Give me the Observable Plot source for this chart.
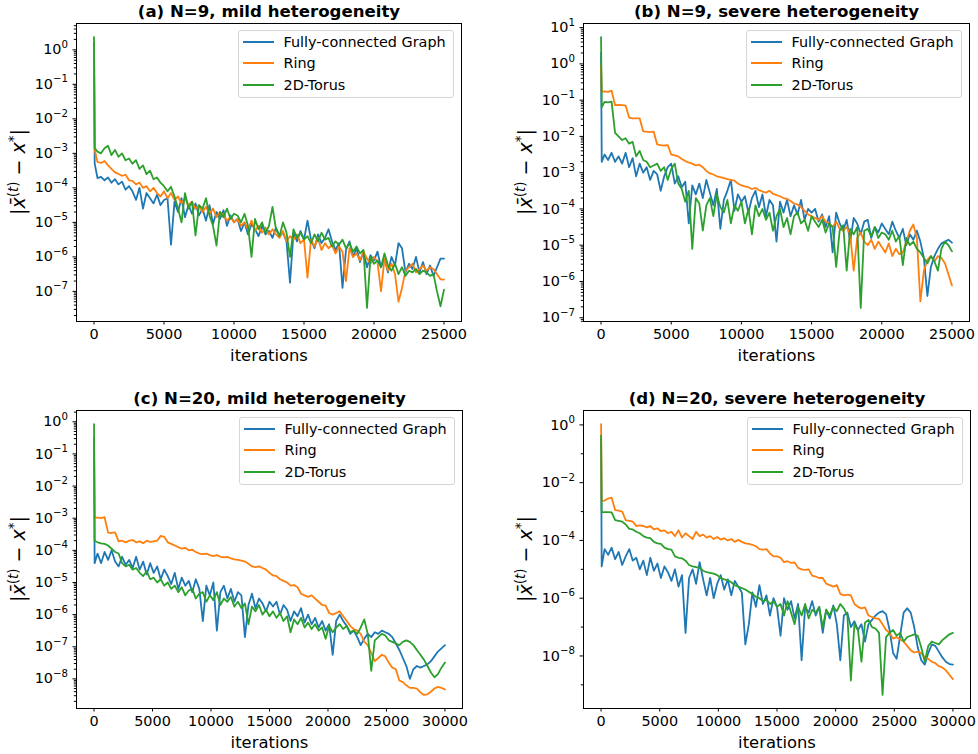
<!DOCTYPE html>
<html>
<head>
<meta charset="utf-8">
<script src="https://cdn.jsdelivr.net/npm/d3@7"></script>
<script src="https://cdn.jsdelivr.net/npm/@observablehq/plot@0.6"></script>
<style>
  html, body { margin: 0; padding: 0; background: #ffffff; }
  #root { position: relative; width: 978px; height: 754px; background: #ffffff; font-family: "DejaVu Sans", sans-serif; }
  .panel { position: absolute; width: 489px; height: 377px; }
  .legend { position: absolute; box-sizing: border-box; width: 216px; height: 68px; border: 1px solid #d6d6d6; border-radius: 3px; background: rgba(255,255,255,0.8); font-family: "DejaVu Sans", sans-serif; font-size: 14.4px; color: #000; }
  .legend .row { position: absolute; left: 0; height: 20px; display: flex; align-items: center; white-space: nowrap; }
  .legend .swatch { display: inline-block; width: 31px; height: 2px; margin-left: 4px; }
  .legend .lab { margin-left: 10px; }
</style>
</head>
<body>
<div id="root"></div>
<script>
// ---------- categories / labels ----------
const seriesNames = ["Fully-connected Graph", "Ring", "2D-Torus"];
const seriesColors = ["#1f77b4", "#ff7f0e", "#2ca02c"];
const panelTitles = ["(a) N=9, mild heterogeneity", "(b) N=9, severe heterogeneity", "(c) N=20, mild heterogeneity", "(d) N=20, severe heterogeneity"];
const xLabel = "iterations";

// ---------- tick values ----------
const xTicksN9 = [0, 5000, 10000, 15000, 20000, 25000];
const xTicksN20 = [0, 5000, 10000, 15000, 20000, 25000, 30000];
const yTickExpA = [0, -1, -2, -3, -4, -5, -6, -7];
const yTickExpB = [1, 0, -1, -2, -3, -4, -5, -6, -7];
const yTickExpC = [0, -1, -2, -3, -4, -5, -6, -7, -8];
const yTickExpD = [0, -2, -4, -6, -8];

// ---------- logged iterations (sampling grid) ----------
const itersN9 = [0, 50, ...d3.range(250, 25001, 250)];
const itersN20 = [0, 50, ...d3.range(300, 30001, 300)];

// ---------- series values, as log10 |x̄(t) - x*| ----------
// (a) N=9, mild
const fullA = [0.2, -3.3,
 -3.72,-3.68,-3.78,-3.7,-3.85,-3.75,-3.9,-3.82,-4.05,-3.95,
 -4.1,-4.35,-4.0,-4.6,-4.15,-4.3,-4.45,-4.2,-4.5,-4.35,
 -4.3,-5.65,-4.4,-4.7,-4.3,-4.85,-4.5,-4.75,-4.45,-4.8,
 -4.6,-4.95,-4.5,-5.05,-4.7,-4.9,-4.65,-5.1,-4.8,-5.0,
 -4.9,-5.25,-5.0,-5.35,-5.05,-5.2,-5.4,-5.1,-5.35,-5.25,
 -5.45,-5.15,-5.4,-5.3,-5.55,-6.75,-5.3,-5.55,-5.25,-5.5,
 -4.95,-5.5,-5.75,-5.35,-5.6,-5.45,-5.2,-5.55,-5.8,-5.6,
 -6.9,-5.8,-5.55,-6.0,-5.75,-6.15,-5.85,-6.3,-5.95,-6.1,
 -5.85,-6.3,-6.05,-6.45,-6.0,-6.25,-5.6,-5.75,-6.45,-6.2,
 -6.35,-6.0,-6.45,-6.15,-6.5,-6.25,-6.55,-6.3,-6.05,-6.05];
const ringA = [0.1, -2.9,
 -3.25,-3.28,-3.22,-3.35,-3.45,-3.55,-3.6,-3.65,-3.62,-3.78,
 -3.8,-3.9,-3.85,-4.0,-3.95,-4.1,-4.0,-4.15,-4.25,-4.1,
 -4.3,-4.15,-4.35,-4.25,-4.45,-4.3,-4.5,-4.4,-4.6,-4.5,
 -4.7,-4.55,-4.75,-4.6,-4.85,-4.7,-4.8,-4.95,-4.85,-5.0,
 -4.9,-5.1,-5.0,-5.2,-4.95,-5.25,-5.1,-5.3,-5.15,-5.35,
 -5.2,-5.35,-5.45,-5.25,-5.55,-5.4,-5.5,-5.35,-5.6,-5.5,
 -6.6,-5.5,-5.7,-5.45,-5.8,-5.6,-5.75,-5.65,-5.9,-5.7,
 -5.85,-6.7,-5.75,-6.0,-5.9,-6.1,-5.85,-6.05,-6.2,-6.0,
 -6.15,-7.0,-6.05,-6.4,-6.2,-6.5,-7.3,-6.9,-6.4,-6.3,
 -6.2,-6.45,-6.35,-6.25,-6.4,-6.3,-6.35,-6.5,-6.65,-6.66];
const torusA = [0.37, -2.85,
 -2.95,-3.0,-2.85,-2.78,-3.05,-2.9,-3.1,-3.0,-3.2,-3.15,
 -3.3,-3.2,-3.45,-3.35,-3.6,-3.5,-3.75,-3.7,-3.85,-3.95,
 -4.1,-3.97,-4.25,-4.6,-5.0,-4.15,-4.6,-4.4,-5.38,-4.5,
 -4.6,-4.3,-4.8,-5.1,-5.67,-4.7,-4.85,-4.6,-4.9,-4.75,
 -4.8,-5.0,-4.75,-5.1,-6.0,-4.9,-5.2,-5.0,-5.3,-5.1,
 -4.55,-5.2,-5.4,-5.0,-5.3,-6.0,-5.2,-5.45,-5.3,-5.5,
 -5.4,-5.6,-5.35,-5.55,-5.3,-5.5,-5.45,-5.7,-5.55,-5.65,
 -5.5,-5.75,-5.6,-5.85,-5.7,-5.9,-5.8,-7.48,-6.0,-6.2,
 -6.1,-6.3,-5.9,-6.25,-6.4,-6.2,-6.5,-6.3,-6.55,-6.4,
 -6.45,-6.35,-6.5,-6.4,-6.45,-6.55,-6.5,-7.0,-7.43,-6.95];

// (b) N=9, severe
const fullB = [0.3, -2.7,
 -2.5,-2.65,-2.45,-2.7,-2.55,-2.75,-2.45,-2.85,-2.6,-3.1,
 -2.75,-3.0,-2.85,-3.2,-2.95,-3.05,-3.5,-3.1,-2.85,-2.75,
 -3.3,-3.1,-3.4,-3.25,-4.4,-3.35,-3.6,-3.3,-3.7,-3.2,
 -3.55,-3.9,-3.45,-4.55,-3.75,-3.5,-3.2,-4.05,-3.6,-3.8,
 -3.65,-4.1,-3.7,-3.5,-3.95,-3.6,-4.2,-3.75,-3.9,-4.9,
 -3.8,-4.1,-3.75,-4.2,-3.9,-4.15,-3.75,-4.3,-4.0,-4.1,
 -4.0,-4.35,-4.15,-4.5,-4.2,-5.2,-4.1,-4.4,-4.6,-4.3,
 -4.9,-4.25,-4.4,-4.7,-4.35,-4.3,-4.8,-4.5,-4.65,-4.4,
 -4.55,-4.7,-4.35,-4.6,-4.8,-4.55,-5.0,-4.7,-4.85,-4.6,
 -4.9,-5.35,-6.4,-5.6,-5.3,-5.1,-4.95,-4.9,-4.85,-4.93];
const ringB = [-0.05, -0.77,
 -0.76,-0.77,-0.74,-1.14,-1.13,-1.14,-1.15,-1.48,-1.5,-1.5,
 -1.5,-1.86,-1.87,-1.88,-1.87,-2.22,-2.24,-2.25,-2.24,-2.5,
 -2.52,-2.55,-2.62,-2.68,-2.72,-2.75,-2.8,-2.78,-2.85,-2.95,
 -3.02,-3.05,-3.1,-3.12,-3.15,-3.18,-3.2,-3.22,-3.3,-3.35,
 -3.38,-3.4,-3.45,-3.42,-3.48,-3.52,-3.55,-3.5,-3.58,-3.62,
 -3.65,-3.7,-3.72,-3.78,-3.85,-3.88,-3.95,-4.05,-4.15,-4.2,
 -4.25,-4.3,-4.2,-4.35,-4.4,-4.5,-4.35,-4.55,-4.6,-4.5,
 -4.7,-5.7,-4.8,-4.65,-4.9,-5.0,-4.85,-5.1,-4.9,-5.05,
 -5.2,-4.95,-5.3,-5.1,-5.25,-5.2,-4.9,-4.6,-4.43,-4.8,
 -6.55,-5.7,-5.4,-5.3,-5.45,-5.3,-5.35,-5.5,-5.8,-6.11];
const torusB = [0.74, -1.2,
 -1.05,-1.06,-1.04,-1.9,-2.0,-2.1,-2.05,-2.2,-2.15,-2.55,
 -2.4,-2.65,-2.7,-2.85,-2.8,-2.75,-2.95,-2.85,-3.2,-2.9,
 -2.75,-3.3,-3.45,-3.8,-3.5,-5.1,-3.7,-3.85,-4.6,-3.9,
 -3.7,-4.2,-3.6,-3.95,-4.1,-3.75,-4.4,-3.9,-4.05,-3.8,
 -4.4,-4.0,-4.7,-3.9,-4.2,-4.0,-4.3,-4.1,-4.6,-4.2,
 -4.0,-4.5,-4.25,-4.7,-4.2,-4.1,-4.4,-4.3,-4.6,-4.2,
 -4.35,-4.5,-4.3,-4.65,-4.4,-4.5,-5.6,-4.6,-4.45,-5.7,
 -4.55,-4.7,-4.5,-6.73,-4.6,-4.55,-4.75,-4.5,-4.8,-4.65,
 -4.7,-4.85,-4.6,-4.9,-4.75,-5.55,-4.8,-5.0,-4.9,-5.1,
 -5.2,-5.35,-5.5,-5.3,-5.45,-5.7,-5.1,-4.9,-5.0,-5.17];

// (c) N=20, mild
const fullC = [-0.5, -4.4,
 -4.1,-4.4,-4.05,-4.3,-4.0,-4.35,-4.5,-4.2,-4.45,-4.3,
 -4.55,-4.2,-4.6,-4.35,-4.75,-4.4,-4.7,-4.5,-4.9,-4.6,
 -4.8,-5.05,-4.7,-5.2,-4.85,-5.1,-4.95,-5.3,-4.9,-5.2,
 -6.2,-5.1,-5.4,-5.0,-6.5,-5.3,-5.1,-5.5,-5.2,-5.6,
 -5.3,-5.4,-6.7,-5.7,-5.35,-5.8,-5.5,-5.65,-5.9,-5.6,
 -5.75,-5.6,-6.0,-5.7,-5.85,-6.2,-5.9,-6.05,-5.8,-6.25,
 -6.0,-6.3,-6.1,-6.4,-6.2,-6.5,-6.3,-7.25,-6.2,-6.0,
 -6.2,-6.35,-6.6,-6.5,-6.7,-6.95,-6.75,-6.6,-6.7,-6.55,
 -6.6,-6.5,-6.55,-6.6,-6.7,-6.9,-7.1,-7.35,-7.6,-8.0,
 -7.7,-7.6,-7.65,-7.6,-7.55,-7.45,-7.3,-7.15,-7.05,-6.95];
const ringC = [-0.5, -2.98,
 -2.98,-3.0,-2.97,-3.45,-3.46,-3.44,-3.72,-3.7,-3.75,-3.7,
 -3.68,-3.75,-3.72,-3.78,-3.7,-3.74,-3.72,-3.7,-3.55,-3.58,
 -3.75,-3.8,-3.85,-3.9,-3.95,-3.92,-4.0,-3.98,-4.05,-4.1,
 -4.12,-4.1,-4.15,-4.18,-4.15,-4.2,-4.22,-4.2,-4.25,-4.28,
 -4.3,-4.32,-4.35,-4.42,-4.5,-4.52,-4.5,-4.55,-4.6,-4.7,
 -4.78,-4.8,-4.9,-4.95,-5.0,-5.1,-5.08,-5.15,-5.35,-5.4,
 -5.45,-5.4,-5.5,-5.6,-5.7,-5.72,-5.95,-6.0,-5.95,-5.9,
 -6.05,-6.2,-6.35,-6.45,-6.5,-6.6,-6.85,-6.95,-7.2,-7.45,
 -7.35,-7.25,-7.3,-7.5,-7.65,-7.7,-8.05,-8.1,-8.2,-8.28,
 -8.28,-8.3,-8.42,-8.5,-8.48,-8.4,-8.3,-8.25,-8.28,-8.33];
const torusC = [-0.07, -3.7,
 -3.75,-3.78,-3.8,-3.85,-3.95,-4.05,-4.1,-4.4,-4.5,-4.45,
 -4.6,-4.55,-4.7,-4.8,-4.65,-4.9,-4.85,-5.0,-4.9,-5.1,
 -5.0,-5.2,-5.1,-5.3,-5.15,-5.4,-5.25,-5.2,-5.5,-5.35,
 -5.3,-5.6,-5.4,-5.55,-5.3,-5.7,-5.5,-5.6,-5.45,-5.75,
 -5.6,-5.8,-5.65,-6.3,-5.75,-5.9,-5.7,-6.0,-5.85,-6.05,
 -5.9,-6.1,-5.95,-6.2,-6.05,-6.55,-6.15,-6.3,-6.1,-6.4,
 -6.25,-6.45,-6.3,-6.5,-6.4,-6.75,-6.35,-6.55,-6.4,-6.3,
 -6.45,-6.35,-6.55,-6.5,-6.6,-6.4,-6.15,-6.6,-7.75,-6.8,
 -6.7,-6.6,-6.65,-6.8,-6.85,-6.9,-6.95,-6.85,-6.8,-6.85,
 -6.95,-7.1,-7.25,-7.4,-7.6,-7.8,-7.95,-7.85,-7.65,-7.49];

// (d) N=20, severe
const fullD = [-0.5, -4.9,
 -4.3,-4.5,-4.25,-4.65,-4.4,-4.85,-4.55,-4.3,-4.7,-4.6,
 -5.0,-4.7,-5.2,-4.6,-5.05,-4.8,-5.3,-4.9,-5.1,-5.4,
 -5.0,-5.6,-5.2,-7.2,-5.3,-5.0,-5.5,-4.75,-5.35,-5.9,
 -5.3,-6.0,-5.5,-5.2,-5.7,-5.35,-5.9,-5.4,-5.6,-5.8,
 -7.6,-6.9,-5.8,-6.3,-5.55,-6.2,-5.9,-6.6,-6.0,-6.3,
 -7.3,-6.0,-6.4,-6.1,-6.7,-6.2,-8.15,-6.3,-6.5,-6.1,
 -6.6,-6.3,-7.2,-6.4,-6.7,-6.25,-6.9,-8.15,-6.6,-6.5,
 -7.0,-6.8,-7.1,-6.9,-7.5,-6.9,-6.75,-6.6,-6.5,-6.45,
 -6.55,-7.1,-7.9,-8.1,-7.3,-6.5,-6.35,-6.5,-7.0,-7.7,
 -8.15,-8.3,-7.9,-7.6,-7.65,-7.85,-8.05,-8.2,-8.28,-8.3];
const ringD = [0.03, -2.63,
 -2.62,-2.55,-2.52,-2.95,-2.97,-3.0,-3.3,-3.32,-3.35,-3.5,
 -3.48,-3.5,-3.55,-3.5,-3.62,-3.58,-3.68,-3.65,-3.75,-3.7,
 -3.85,-3.65,-3.9,-3.75,-3.85,-3.95,-3.7,-3.85,-3.8,-3.9,
 -3.85,-3.95,-3.88,-3.97,-3.92,-4.0,-3.95,-4.05,-3.98,-4.05,
 -4.1,-4.12,-4.15,-4.2,-4.3,-4.32,-4.3,-4.45,-4.55,-4.55,
 -4.6,-4.75,-4.72,-4.78,-4.76,-4.95,-5.0,-5.02,-5.0,-5.22,
 -5.25,-5.3,-5.3,-5.5,-5.55,-5.6,-5.55,-5.85,-5.9,-5.88,
 -5.9,-6.2,-6.3,-6.35,-6.32,-6.6,-6.65,-6.7,-6.72,-6.9,
 -7.1,-7.2,-7.4,-7.35,-7.42,-7.5,-7.65,-7.8,-7.88,-7.85,
 -7.9,-8.05,-8.1,-8.2,-8.25,-8.35,-8.4,-8.5,-8.65,-8.8];
const torusD = [-0.37, -3.03,
 -3.02,-3.02,-3.03,-3.3,-3.32,-3.35,-3.45,-3.6,-3.62,-3.7,
 -3.75,-3.85,-3.9,-3.92,-4.05,-4.1,-4.12,-4.25,-4.3,-4.32,
 -4.55,-4.6,-4.62,-4.7,-4.85,-4.9,-4.92,-4.95,-5.05,-5.1,
 -5.12,-5.15,-5.2,-5.3,-5.35,-5.38,-5.45,-5.55,-5.6,-5.65,
 -5.7,-5.78,-5.85,-5.95,-6.0,-6.1,-6.05,-6.2,-6.1,-6.3,
 -6.2,-6.6,-6.1,-6.5,-6.9,-6.3,-6.6,-6.2,-6.7,-6.4,
 -6.5,-6.3,-7.0,-6.4,-6.6,-6.3,-6.45,-6.2,-6.35,-6.6,
 -8.85,-6.9,-7.1,-8.2,-6.85,-6.75,-7.0,-7.05,-7.2,-9.35,
 -7.35,-7.2,-7.1,-7.3,-7.2,-7.5,-7.35,-7.3,-7.25,-7.3,
 -7.7,-8.2,-7.65,-7.5,-7.55,-7.6,-7.45,-7.35,-7.25,-7.2];

// ---------- layout ----------
const W = 489, H = 377;
const panels = [
  {title: panelTitles[0], iters: itersN9, series: [fullA, ringA, torusA], xTicks: xTicksN9, yExp: yTickExpA, minorAll: true,
   left: 0, top: 0, m: {top: 23, right: 28, bottom: 56, left: 76}},
  {title: panelTitles[1], iters: itersN9, series: [fullB, ringB, torusB], xTicks: xTicksN9, yExp: yTickExpB, minorAll: true,
   left: 489, top: 0, m: {top: 23, right: 9, bottom: 56, left: 94}},
  {title: panelTitles[2], iters: itersN20, series: [fullC, ringC, torusC], xTicks: xTicksN20, yExp: yTickExpC, minorAll: true,
   left: 0, top: 377, m: {top: 33, right: 27, bottom: 46, left: 76}},
  {title: panelTitles[3], iters: itersN20, series: [fullD, ringD, torusD], xTicks: xTicksN20, yExp: yTickExpD, minorAll: false,
   left: 489, top: 377, m: {top: 33, right: 8, bottom: 46, left: 94}}
];

const supMap = {"-": "\u207B", "0": "\u2070", "1": "\u00B9", "2": "\u00B2", "3": "\u00B3", "4": "\u2074", "5": "\u2075", "6": "\u2076", "7": "\u2077", "8": "\u2078", "9": "\u2079"};
const unSup = Object.fromEntries(Object.entries(supMap).map(([k, v]) => [v, k === "-" ? "\u2212" : k]));
const fmtPow = v => "10" + String(Math.round(Math.log10(v))).split("").map(c => supMap[c]).join("");

// turn "10⁻¹" tick texts into "10" + raised smaller exponent (mathtext look)
function styleExponents(svg) {
  const re = /^10([\u207B\u2070\u00B9\u00B2\u00B3\u2074-\u2079]+)$/;
  d3.select(svg).selectAll("text").each(function() {
    const s = this.textContent;
    const m = re.exec(s);
    if (!m) return;
    const exp = m[1].split("").map(c => unSup[c]).join("");
    const t = d3.select(this);
    t.text(null);
    t.append("tspan").text("10");
    t.append("tspan").attr("font-size", 10.2).attr("dy", -6.5).text(exp);
  });
}

function addYLabel(svg, x, y) {
  const t = d3.select(svg).append("text")
    .attr("transform", `translate(${x},${y}) rotate(-90)`)
    .attr("text-anchor", "middle")
    .attr("font-family", "'DejaVu Sans', sans-serif")
    .attr("font-size", 19)
    .attr("fill", "black");
  t.append("tspan").text("|");
  t.append("tspan").attr("font-style", "italic").text("x\u0304");
  t.append("tspan").attr("font-size", 13.5).attr("dy", -7.5).text("(");
  t.append("tspan").attr("font-size", 13.5).attr("font-style", "italic").text("t");
  t.append("tspan").attr("font-size", 13.5).text(")");
  t.append("tspan").attr("dy", 7.5).text(" \u2212 ");
  t.append("tspan").attr("font-style", "italic").text("x");
  t.append("tspan").attr("font-size", 13.5).attr("dy", -7.5).text("*");
  t.append("tspan").attr("dy", 7.5).text("|");
}

const root = document.getElementById("root");

for (const p of panels) {
  const rows = [];
  p.series.forEach((s, si) => s.forEach((v, i) => rows.push({iter: p.iters[i], value: Math.pow(10, v), series: seriesNames[si]})));
  const all = p.series.flat();
  const lo = d3.min(all), hi = d3.max(all), span = hi - lo;
  const yDomain = [Math.pow(10, lo - 0.05 * span), Math.pow(10, hi + 0.05 * span)];
  const xMax = d3.max(p.iters);
  const xDomain = [-0.05 * xMax, 1.05 * xMax];
  const majors = p.yExp.map(e => Math.pow(10, e));
  const minors = [];
  for (let e = Math.floor(lo - 0.05 * span); e <= Math.ceil(hi + 0.05 * span); e++) {
    if (p.minorAll) {
      for (let k = 2; k <= 9; k++) minors.push(k * Math.pow(10, e));
    } else if (!p.yExp.includes(e)) {
      minors.push(Math.pow(10, e));
    }
  }
  const minorIn = minors.filter(v => v >= yDomain[0] && v <= yDomain[1]);

  const chart = Plot.plot({
    width: W, height: H,
    marginTop: p.m.top, marginRight: p.m.right, marginBottom: p.m.bottom, marginLeft: p.m.left,
    style: {fontFamily: "'DejaVu Sans', sans-serif", fontSize: "14.4px", color: "black", background: "white", overflow: "visible"},
    x: {domain: xDomain},
    y: {type: "log", domain: yDomain},
    color: {domain: seriesNames, range: seriesColors},
    marks: [
      Plot.axisY(minorIn, {tickSize: 2.2, tickFormat: () => "", label: null}),
      Plot.axisY(majors, {tickSize: 3.5, tickPadding: 5, tickFormat: fmtPow, label: null, fontSize: 14.4}),
      Plot.axisX(p.xTicks, {tickSize: 3.5, tickPadding: 4, tickFormat: d => String(d), label: null, fontSize: 14.4}),
      Plot.line(rows, {x: "iter", y: "value", stroke: "series", strokeWidth: 1.8}),
      Plot.frame({stroke: "black", strokeWidth: 1}),
      Plot.text([p.title], {text: d => d, frameAnchor: "top", lineAnchor: "bottom", dy: -7, fontWeight: "bold", fontSize: 16.6}),
      Plot.text([xLabel], {text: d => d, frameAnchor: "bottom", lineAnchor: "bottom", dy: 39, fontSize: 16.4})
    ]
  });
  styleExponents(chart);
  addYLabel(chart, p.m.left - 51, p.m.top + (H - p.m.top - p.m.bottom) / 2);

  const panel = document.createElement("div");
  panel.className = "panel";
  panel.style.left = p.left + "px";
  panel.style.top = p.top + "px";
  panel.appendChild(chart);

  const legend = document.createElement("div");
  legend.className = "legend";
  legend.style.left = (W - p.m.right - 7.5 - 216) + "px";
  legend.style.top = (p.m.top + 7) + "px";
  seriesNames.forEach((name, i) => {
    const row = document.createElement("div");
    row.className = "row";
    row.style.top = (10.7 + 21.7 * i - 10) + "px";
    const sw = document.createElement("span");
    sw.className = "swatch";
    sw.style.background = seriesColors[i];
    const lab = document.createElement("span");
    lab.className = "lab";
    lab.textContent = name;
    row.appendChild(sw);
    row.appendChild(lab);
    legend.appendChild(row);
  });
  panel.appendChild(legend);
  root.appendChild(panel);
}
</script>
</body>
</html>
